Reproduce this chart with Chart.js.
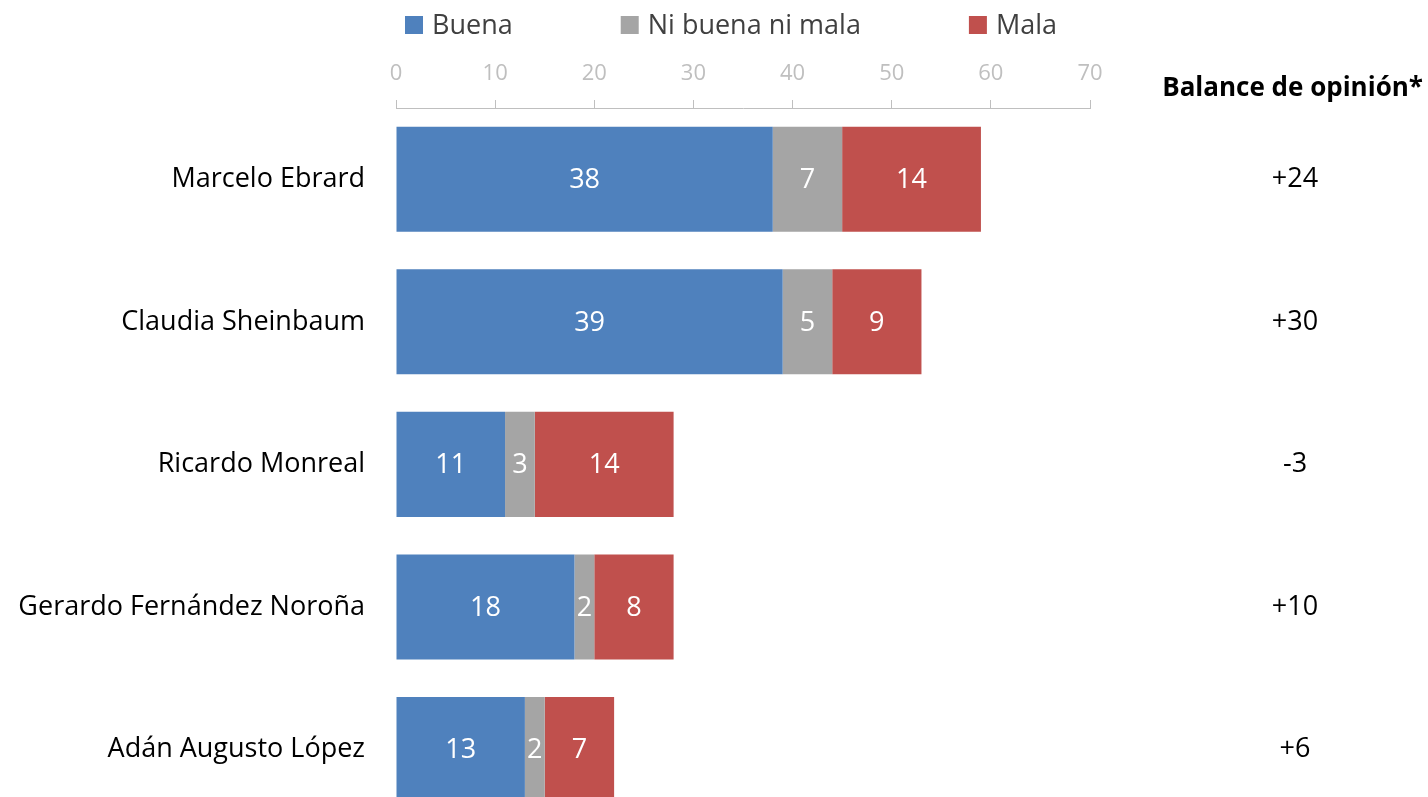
<!DOCTYPE html>
<html>
<head>
<meta charset="utf-8">
<script src="https://cdn.jsdelivr.net/npm/chart.js@4"></script>
<style>
  html, body { margin: 0; padding: 0; background: #fff; overflow: hidden; }
  #wrap { width: 1428px; height: 860px; }
</style>
</head>
<body>
<div id="wrap"><canvas id="opinionChart" width="1428" height="860"></canvas></div>
<script>
// Data
const candidates = ['Marcelo Ebrard', 'Claudia Sheinbaum', 'Ricardo Monreal', 'Gerardo Fernández Noroña', 'Adán Augusto López'];
const buena = [38, 39, 11, 18, 13];
const niBuenaNiMala = [7, 5, 3, 2, 2];
const mala = [14, 9, 14, 8, 7];
const balance = ['+24', '+30', '-3', '+10', '+6'];
const xTicks = [0, 10, 20, 30, 40, 50, 60, 70];

const FONT = "'Segoe UI', 'Open Sans', sans-serif";

// White value labels inside each bar segment
const barLabels = {
    id: 'barLabels',
    afterDatasetsDraw(chart) {
        const ctx = chart.ctx;
        ctx.save();
        ctx.font = '27px ' + FONT;
        ctx.fillStyle = '#ffffff';
        ctx.textAlign = 'center';
        ctx.textBaseline = 'middle';
        chart.data.datasets.forEach((ds, i) => {
            chart.getDatasetMeta(i).data.forEach((bar, j) => {
                const p = bar.getCenterPoint();
                ctx.fillText(ds.data[j], p.x, p.y + 1);
            });
        });
        ctx.restore();
    }
};

// Right-hand "Balance de opinión" column
const balanceColumn = {
    id: 'balanceColumn',
    afterDraw(chart) {
        const ctx = chart.ctx;
        const y = chart.scales.y;
        ctx.save();
        ctx.fillStyle = '#000000';
        ctx.textBaseline = 'middle';
        ctx.font = 'bold 26px ' + FONT;
        ctx.textAlign = 'right';
        ctx.fillText('Balance de opinión*', 1423, 89);
        ctx.font = '27px ' + FONT;
        ctx.textAlign = 'center';
        balance.forEach((b, i) => {
            ctx.fillText(b, 1295, y.getPixelForValue(i));
        });
        ctx.restore();
    }
};

// Legend with wide gaps between items
const wideLegend = {
    id: 'wideLegend',
    afterDraw(chart) {
        const ctx = chart.ctx;
        const box = 18, gap = 108, textGap = 9;
        ctx.save();
        ctx.font = '27px ' + FONT;
        ctx.textBaseline = 'middle';
        const items = chart.data.datasets.map(ds => ({
            label: ds.label,
            color: ds.backgroundColor,
            w: box + textGap + ctx.measureText(ds.label).width
        }));
        const total = items.reduce((s, it) => s + it.w, 0) + gap * (items.length - 1);
        let x = 731 - total / 2;
        const cy = 25;
        items.forEach(it => {
            ctx.fillStyle = it.color;
            ctx.fillRect(x, cy - box / 2, box, box);
            ctx.fillStyle = '#404040';
            ctx.textAlign = 'left';
            ctx.fillText(it.label, x + box + textGap, cy + 1);
            x += it.w + gap;
        });
        ctx.restore();
    }
};

const ctx = document.getElementById('opinionChart').getContext('2d');
new Chart(ctx, {
    type: 'bar',
    data: {
        labels: candidates,
        datasets: [
            { label: 'Buena', data: buena, backgroundColor: '#4F81BD' },
            { label: 'Ni buena ni mala', data: niBuenaNiMala, backgroundColor: '#A5A5A5' },
            { label: 'Mala', data: mala, backgroundColor: '#C0504D' }
        ]
    },
    options: {
        indexAxis: 'y',
        responsive: false,
        animation: false,
        layout: { padding: { top: 40, right: 338, bottom: 3, left: 0 } },
        datasets: { bar: { categoryPercentage: 1, barPercentage: 0.737 } },
        plugins: {
            legend: { display: false },
            tooltip: { enabled: false }
        },
        scales: {
            x: {
                position: 'top',
                stacked: true,
                min: 0,
                max: 70,
                afterBuildTicks(scale) {
                    scale.ticks = xTicks.map(v => ({ value: v }));
                },
                afterFit(scale) { scale.height = 68; },
                grid: { drawOnChartArea: false, drawTicks: true, tickLength: 8, color: '#bfbfbf' },
                border: { color: '#bfbfbf' },
                ticks: { color: '#bfbfbf', padding: 13, font: { family: FONT, size: 22 } }
            },
            y: {
                stacked: true,
                afterFit(scale) { scale.width = 396; },
                grid: { display: false },
                border: { display: false },
                ticks: { color: '#000000', padding: 23, font: { family: FONT, size: 27 } }
            }
        }
    },
    plugins: [barLabels, balanceColumn, wideLegend]
});
</script>
</body>
</html>
